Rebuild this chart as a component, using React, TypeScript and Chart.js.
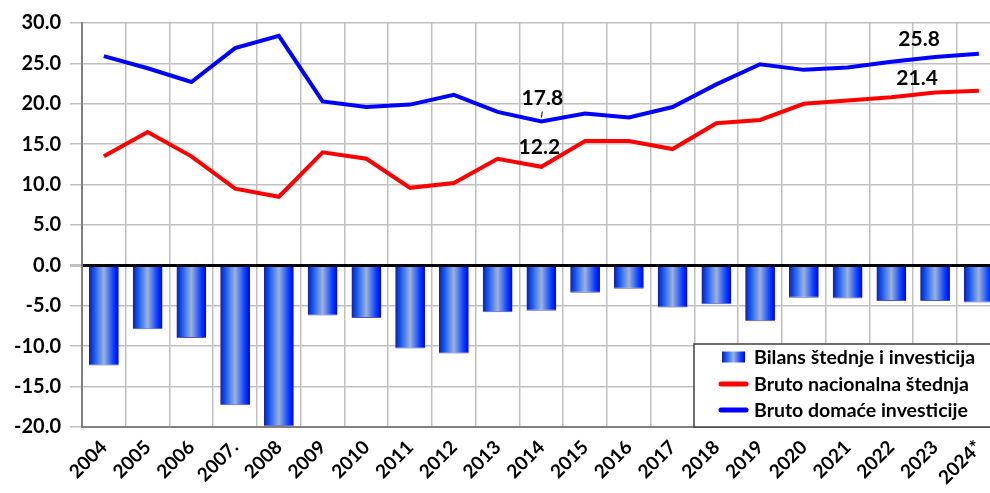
import React, { useEffect, useRef } from "react";
import { Chart, registerables } from "chart.js";

Chart.register(...registerables);

const years = ["2004", "2005", "2006", "2007.", "2008", "2009", "2010", "2011", "2012", "2013", "2014", "2015", "2016", "2017", "2018", "2019", "2020", "2021", "2022", "2023", "2024*"];
const balance = [-12.4, -7.9, -9.0, -17.3, -19.9, -6.2, -6.5, -10.3, -10.9, -5.8, -5.6, -3.4, -2.9, -5.2, -4.8, -6.9, -4.0, -4.1, -4.4, -4.4, -4.6];
const nationalSaving = [13.5, 16.5, 13.5, 9.5, 8.5, 14.0, 13.2, 9.6, 10.2, 13.2, 12.2, 15.4, 15.4, 14.4, 17.6, 18.0, 20.0, 20.4, 20.8, 21.4, 21.6];
const domesticInvestment = [25.9, 24.4, 22.7, 26.9, 28.4, 20.3, 19.6, 19.9, 21.1, 19.0, 17.8, 18.8, 18.3, 19.6, 22.4, 24.9, 24.2, 24.5, 25.2, 25.8, 26.2];
const seriesLabels = ["Bilans štednje i investicija", "Bruto nacionalna štednja", "Bruto domaće investicije"];
const yTicks = [30, 25, 20, 15, 10, 5, 0, -5, -10, -15, -20];
// annotations: dataset index, category index, text
const annotations = [
  { ds: 2, i: 10, text: "17.8", dx: 1, dy: -23, leader: true },
  { ds: 1, i: 10, text: "12.2", dx: -2, dy: -20, leader: false },
  { ds: 2, i: 19, text: "25.8", dx: -16, dy: -18, leader: false },
  { ds: 1, i: 19, text: "21.4", dx: -18, dy: -14, leader: false },
];

const FONT = "Lato, 'Open Sans', sans-serif";
const BAR_PCT = 0.68;

function barGradient(ctx: CanvasRenderingContext2D, x0: number, x1: number) {
  const g = ctx.createLinearGradient(x0, 0, x1, 0);
  g.addColorStop(0, "#1a1a9a");
  g.addColorStop(0.15, "#0a50f0");
  g.addColorStop(0.5, "#9cb2dc");
  g.addColorStop(0.82, "#0a40ff");
  g.addColorStop(1, "#0000e8");
  return g;
}

export default function App() {
  const ref = useRef<HTMLCanvasElement | null>(null);
  useEffect(() => {
    if (!ref.current) return;
    const legendPlugin = {
      id: "boxLegend",
      afterDatasetsDraw(chart: any) {
        const ctx = chart.ctx as CanvasRenderingContext2D;
        const area = chart.chartArea;
        // annotations
        ctx.save();
        ctx.fillStyle = "#000";
        ctx.font = `bold 21px ${FONT}`;
        ctx.textAlign = "center";
        ctx.textBaseline = "middle";
        annotations.forEach((a) => {
          const meta = chart.getDatasetMeta(a.ds);
          const el = meta.data[a.i];
          if (!el) return;
          ctx.fillText(a.text, el.x + a.dx, el.y + a.dy);
          if (a.leader) {
            ctx.strokeStyle = "#000";
            ctx.lineWidth = 1;
            ctx.beginPath();
            ctx.moveTo(el.x + 1, el.y - 10);
            ctx.lineTo(el.x, el.y - 4);
            ctx.stroke();
          }
        });
        // legend box
        const bx = 694, by = 344, bw = 330, bh = area.bottom - by;
        ctx.fillStyle = "#fff";
        ctx.fillRect(bx, by, bw, bh);
        ctx.strokeStyle = "#404040";
        ctx.lineWidth = 1.5;
        ctx.strokeRect(bx, by, bw, bh);
        const rows = [357, 384, 410];
        ctx.font = `bold 19.5px ${FONT}`;
        ctx.textAlign = "left";
        ctx.textBaseline = "middle";
        rows.forEach((ry, k) => {
          if (k === 0) {
            ctx.fillStyle = barGradient(ctx, 722, 745);
            ctx.fillRect(722, ry - 5.5, 23, 11);
          } else {
            ctx.strokeStyle = k === 1 ? "#ff0000" : "#0000ff";
            ctx.lineWidth = 5;
            ctx.lineCap = "round";
            ctx.beginPath();
            ctx.moveTo(721, ry);
            ctx.lineTo(746, ry);
            ctx.stroke();
          }
          ctx.fillStyle = "#000";
          ctx.fillText(seriesLabels[k], 754, ry + 1);
        });
        ctx.restore();
      },
    };
    const chart = new Chart(ref.current, {
      type: "bar",
      data: {
        labels: years,
        datasets: [
          {
            type: "bar",
            label: seriesLabels[0],
            data: balance,
            order: 3,
            barPercentage: BAR_PCT,
            categoryPercentage: 1,
            borderColor: "#5050c0",
            borderWidth: { top: 0, left: 0, right: 0, bottom: 1 } as any,
            borderSkipped: false,
            backgroundColor: (c: any) => {
              const ch = c.chart;
              const xs = ch.scales?.x;
              if (!xs || c.dataIndex === undefined) return "#0a50f0";
              const cx = xs.getPixelForValue(c.dataIndex);
              const w = (xs.width / years.length) * BAR_PCT;
              if (!isFinite(cx) || !isFinite(w) || w <= 0) return "#0a50f0";
              return barGradient(ch.ctx, cx - w / 2, cx + w / 2);
            },
          },
          {
            type: "line",
            label: seriesLabels[1],
            data: nationalSaving,
            order: 2,
            borderColor: "#ff0000",
            borderWidth: 4,
            pointRadius: 0,
            tension: 0,
            fill: false,
          },
          {
            type: "line",
            label: seriesLabels[2],
            data: domesticInvestment,
            order: 1,
            borderColor: "#0000ff",
            borderWidth: 4,
            pointRadius: 0,
            tension: 0,
            fill: false,
          },
        ],
      },
      options: {
        responsive: false,
        animation: false,
        layout: { padding: { top: 23, right: 2, left: 0, bottom: 0 } },
        plugins: { legend: { display: false }, tooltip: { enabled: false } },
        scales: {
          x: {
            offset: true,
            grid: { offset: true, color: "#c0c0c0", lineWidth: 1.5, drawTicks: false },
            border: { color: "#808080", width: 2 },
            ticks: {
              color: "#000",
              font: { family: FONT, size: 19, weight: "bold" },
              maxRotation: 45,
              minRotation: 45,
              autoSkip: false,
              padding: 9,
            },
            afterFit: (s: any) => { s.height = 66; },
          },
          y: {
            min: -20,
            max: 30,
            afterBuildTicks: (s: any) => { s.ticks = yTicks.map((v) => ({ value: v })); },
            grid: {
              color: (c: any) => (c.tick && c.tick.value === 0 ? "#000000" : "#c0c0c0"),
              lineWidth: (c: any) => (c.tick && c.tick.value === 0 ? 3 : 1.5),
              tickLength: 12,
              tickColor: "#c0c0c0",
            },
            border: { color: "#808080", width: 2 },
            ticks: {
              color: "#000",
              font: { family: FONT, size: 20, weight: "bold" },
              padding: 9,
              callback: (v: any) => Number(v).toFixed(1),
            },
            afterFit: (s: any) => { s.width = 82; },
          },
        },
      },
      plugins: [legendPlugin],
    });
    return () => chart.destroy();
  }, []);
  return (
    <div style={{ position: "absolute", left: 0, top: 0, width: 990, height: 493, overflow: "hidden", background: "#fff" }}>
      <canvas ref={ref} width={1004} height={493} style={{ display: "block" }} />
    </div>
  );
}
